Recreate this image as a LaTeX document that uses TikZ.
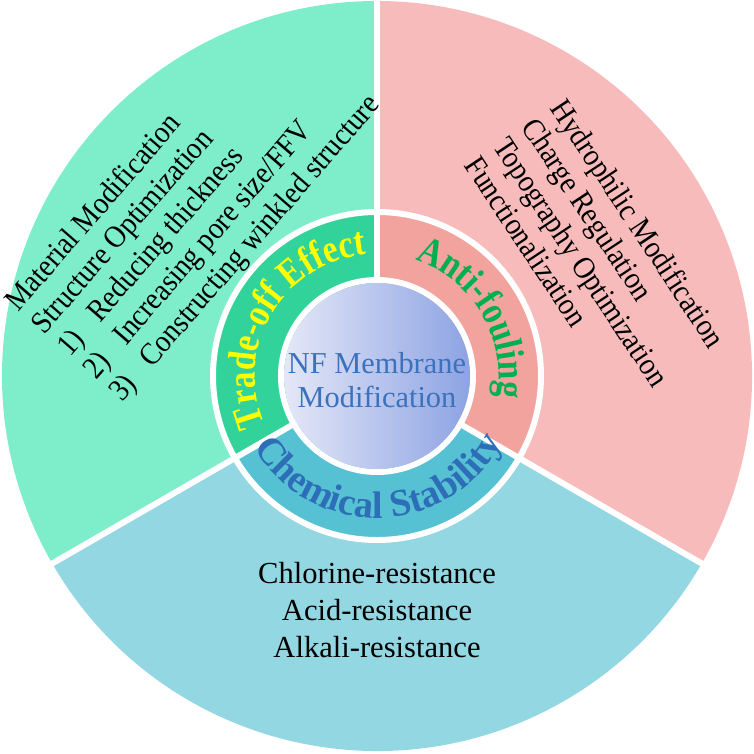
\documentclass[tikz,border=0pt]{standalone}
\usepackage{fontspec}
\setmainfont{Liberation Serif}
\newfontfamily\arcfont[FakeStretch=0.84]{Liberation Serif}
\newfontfamily\listfont[FakeStretch=0.9]{Liberation Serif}
\usetikzlibrary{decorations.text}
\definecolor{outergreen}{HTML}{7EEDC9}
\definecolor{innergreen}{HTML}{32D39B}
\definecolor{outerpink}{HTML}{F8BBBB}
\definecolor{innerpink}{HTML}{F3A39E}
\definecolor{outerblue}{HTML}{93D7E2}
\definecolor{innerblue}{HTML}{56C1D2}
\definecolor{coreleft}{HTML}{E4E7F7}
\definecolor{coreright}{HTML}{8DA3E3}
\definecolor{coretext}{HTML}{3C72BC}
\definecolor{chemtext}{HTML}{2E6DB8}
\definecolor{foultext}{HTML}{00B050}
\definecolor{tradetext}{HTML}{FFFF00}
\begin{document}
\begin{tikzpicture}[x=0.02cm, y=0.02cm,
	gap/.style={draw=white, line width=3.4pt},
	listtext/.style={align=left, font=\listfont\fontsize{17.8}{19.6}\selectfont},
	arctext/.style={decorate, decoration={text along path, text align=center, text color=#1}}]
		\useasboundingbox (-377,-378) rectangle (377,376);
		\draw [draw=none, fill=outergreen] (0,0) -- (90:375) arc[start angle=90, end angle=210, radius=375] -- cycle;
		\draw [draw=none, fill=outerpink] (0,0) -- (-30:375) arc[start angle=-30, end angle=90, radius=375] -- cycle;
		\draw [draw=none, fill=outerblue] (0,0) -- (210:375) arc[start angle=210, end angle=330, radius=375] -- cycle;
		% inner ring, one darker band per topic
		\draw [draw=none, fill=innergreen] (0,0) -- (90:164) arc[start angle=90, end angle=210, radius=164] -- cycle;
		\draw [draw=none, fill=innerpink] (0,0) -- (-30:164) arc[start angle=-30, end angle=90, radius=164] -- cycle;
		\draw [draw=none, fill=innerblue] (0,0) -- (210:164) arc[start angle=210, end angle=330, radius=164] -- cycle;
		
		% white gaps between the bands
		\draw [gap] (0,0) circle (164);
		\draw [gap] (0,0) circle (96);
		\foreach \a in {90,210,330}
			\draw [gap] (0,0) -- (\a:377);
		\shade [left color=coreleft, right color=coreright] (0,0) circle (93);
		
		\node (core) [align=center, text=coretext, font=\fontsize{17.3}{19.4}\selectfont] at (0,-4) {NF Membrane\\Modification};
		
		% topic names along the inner ring
		\path [arctext=tradetext, decoration={text={|\arcfont\fontsize{22.6}{26}\selectfont\bfseries|Trade-off Effect}}]
			(210:122) arc[start angle=210, end angle=88, radius=122];
		\path [arctext=foultext, decoration={text={|\arcfont\fontsize{22.6}{26}\selectfont\bfseries|Anti-fouling}}]
			(92:122) arc[start angle=92, end angle=-30, radius=122];
		\path [arctext=chemtext, decoration={text={|\fontsize{21.8}{24}\selectfont\bfseries|Chemical Stability}}]
			(200:142) arc[start angle=200, end angle=342, radius=142];
		
		\node (trade) [listtext, rotate=49] at (-183,172) {Material Modification\\Structure Optimization\\\makebox[1.45em][l]{1)}Reducing thickness\\\makebox[1.45em][l]{2)}Increasing pore size/FFV\\\makebox[1.45em][l]{3)}Constructing winkled structure};
		\node (foul) [listtext, rotate=-56.5] at (219,124) {Hydrophilic Modification\\Charge Regulation\\Topography Optimization\\Functionalization};
		\node (chem) [align=center, font=\fontsize{17.4}{21}\selectfont] at (0,-234) {Chlorine-resistance\\Acid-resistance\\Alkali-resistance};
	\end{tikzpicture}
\end{document}
